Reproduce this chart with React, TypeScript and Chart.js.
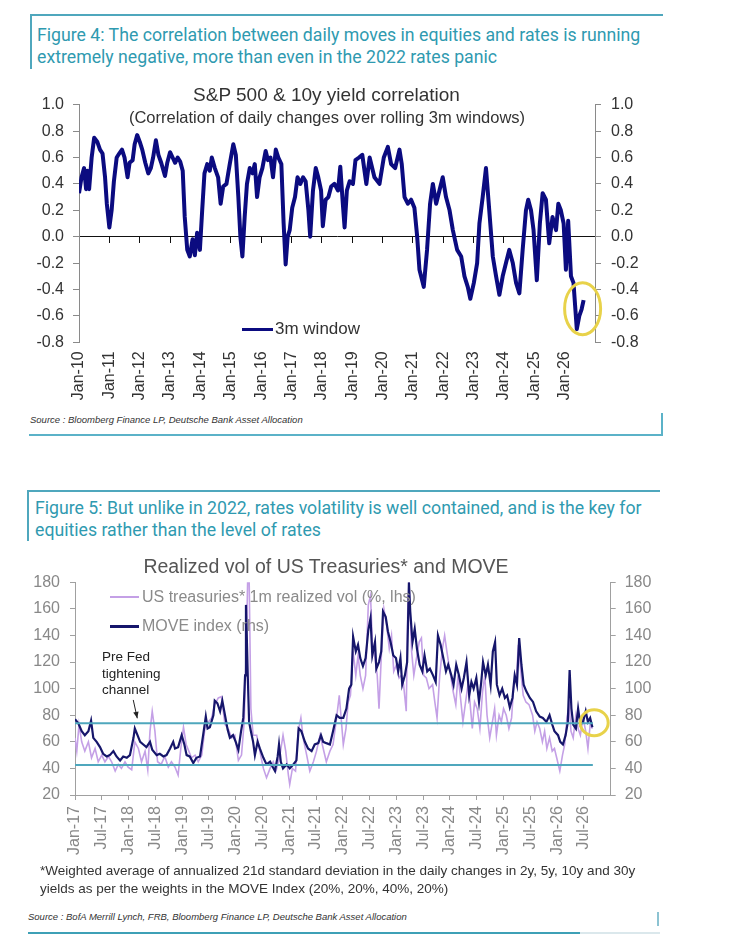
import React, { useEffect, useRef } from 'react';
import { Chart, registerables } from 'chart.js';

Chart.register(...registerables);

const FONT = "'Liberation Sans', Arial, sans-serif";
const NAVY = '#0b0b80';
const MOVE_NAVY = '#16166b';
const LAVENDER = '#c4a0e6';
const TEAL = '#4fa7bd';
const HEAD_TEAL = '#2f9ab0';

// ---------- Figure 4 data (months since Jan 2010) ----------
const corrMonth = [
  0, 1, 2, 2.8, 3.3, 4, 5, 6, 7.2, 8.3, 9.3, 10.3, 11, 12, 12.9, 13.8, 14.9, 15.9, 17, 18,
  19.2, 20, 21.2, 22, 23, 24, 25, 26.2, 27.4, 28.4, 29.3, 30.4, 31.4, 32.5, 34, 34.9, 36, 37, 38, 39,
  40, 41, 41.8, 42.8, 43.8, 44.9, 45.8, 46.7, 47.8, 48.7, 49.6, 50.7, 51.7, 52.5, 53.7, 55, 56, 57, 58.3, 59.6,
  61, 62, 63, 63.8, 64.6, 65.5, 66.4, 67.5, 68.6, 69.5, 70.4, 71.4, 72.5, 73.8, 74.7, 75.7, 76.7, 77.8, 78.8, 80,
  80.9, 81.7, 82.5, 83.3, 84.3, 85.4, 86.4, 87.5, 88.6, 89.6, 90.7, 91.4, 92.5, 93.6, 94.6, 95.7, 96.4, 97.5, 98.6, 99.7,
  101, 102.4, 103.3, 104.3, 105, 105.9, 107, 108.3, 109.3, 110.7, 112, 113.6, 114.9, 116.8, 118.8, 120.5, 122.1, 123.4, 125, 126.7,
  127.6, 128.7, 130, 131.3, 132.6, 133.7, 134.6, 136.3, 137.6, 138.8, 139.9, 141.2, 142.5, 143.8, 145.1, 146.5, 147.8, 149.5, 151.1, 152.4,
  153.7, 154.7, 156.1, 157.4, 158.3, 159.6, 160.9, 162.2, 163.6, 164.9, 166.2, 167.5, 168.8, 170.1, 171.5, 172.8, 174.1, 175.4, 176.7, 177.6,
  178.7, 179.7, 181, 182.2, 183.3, 184.6, 185.9, 187.2, 188.6, 189.5, 190.5, 191.6, 192.5, 193.4, 194.5, 195.5, 196.8, 197.8, 198.7, 199.5,
];
const corrValue = [
  0.33, 0.45, 0.52, 0.36, 0.5, 0.36, 0.6, 0.75, 0.72, 0.66, 0.63, 0.45, 0.25, 0.07, 0.2, 0.42, 0.6, 0.63, 0.66, 0.6,
  0.45, 0.56, 0.58, 0.7, 0.77, 0.72, 0.66, 0.56, 0.48, 0.52, 0.6, 0.73, 0.62, 0.56, 0.46, 0.56, 0.64, 0.6, 0.56, 0.6,
  0.57, 0.5, 0.15, -0.1, -0.15, -0.02, -0.14, 0.03, -0.1, 0.2, 0.48, 0.55, 0.5, 0.6, 0.52, 0.45, 0.25, 0.38, 0.4, 0.55,
  0.7, 0.62, 0.3, 0.0, -0.15, 0.15, 0.4, 0.52, 0.48, 0.55, 0.3, 0.45, 0.52, 0.65, 0.58, 0.6, 0.45, 0.66, 0.6, 0.55,
  0.1, -0.21, 0.0, 0.05, 0.22, 0.3, 0.45, 0.4, 0.45, 0.42, 0.2, 0.0, 0.35, 0.52, 0.45, 0.35, 0.08, 0.28, 0.3, 0.38,
  0.4, 0.35, 0.53, 0.25, 0.07, 0.35, 0.42, 0.4, 0.58, 0.6, 0.62, 0.4, 0.6, 0.45, 0.4, 0.6, 0.68, 0.55, 0.52, 0.66,
  0.55, 0.3, 0.25, 0.28, 0.22, 0.0, -0.25, -0.38, -0.1, 0.25, 0.4, 0.25, 0.35, 0.45, 0.3, 0.2, 0.05, -0.1, -0.15, -0.3,
  -0.38, -0.47, -0.35, -0.2, 0.1, 0.3, 0.52, 0.2, -0.15, -0.3, -0.44, -0.3, -0.2, -0.1, -0.2, -0.35, -0.43, -0.1, 0.2, 0.28,
  0.2, 0.05, -0.33, 0.1, 0.33, 0.28, -0.05, 0.15, 0.05, 0.25, 0.2, 0.1, -0.25, 0.12, -0.3, -0.35, -0.7, -0.6, -0.55, -0.48,
];
const corrXLabels = [
  'Jan-10', 'Jan-11', 'Jan-12', 'Jan-13', 'Jan-14', 'Jan-15', 'Jan-16', 'Jan-17', 'Jan-18',
  'Jan-19', 'Jan-20', 'Jan-21', 'Jan-22', 'Jan-23', 'Jan-24', 'Jan-25', 'Jan-26',
];
const corrYTicks = [1.0, 0.8, 0.6, 0.4, 0.2, 0.0, -0.2, -0.4, -0.6, -0.8];
const corrLegend = '3m window';

// ---------- Figure 5 data (months since Jan 2017) ----------
const moveMonth = [
  0, 0.75, 1.5, 2.2, 3, 3.6, 4.1, 4.85, 5.6, 6.3, 7.1, 7.8, 8.6, 9.3, 10.1, 10.8, 11.6, 12.3, 13.1, 13.4,
  14, 14.6, 15.3, 16, 16.8, 17.3, 18.3, 19, 19.8, 20.5, 21.3, 22, 22.4, 23.1, 23.9, 24.5, 25, 25.7, 26.5, 27.2,
  28, 28.7, 29.3, 29.7, 30.2, 31, 31.3, 31.9, 32.5, 33, 33.6, 34.2, 34.7, 35.4, 36, 36.6, 37.2, 37.7, 38.1, 38.3,
  38.7, 39, 39.4, 39.9, 40.3, 40.9, 41.4, 42.2, 42.9, 43.7, 44.3, 44.8, 45.4, 45.7, 46.1, 46.6, 47.4, 48.1, 48.9, 49.6,
  50.1, 50.7, 51.5, 52.2, 53, 53.7, 54.5, 55.1, 55.6, 56.3, 57.1, 57.8, 58.6, 59.3, 60.1, 60.8, 61.4, 61.9, 62.3, 62.9,
  63.4, 63.9, 64.5, 65.1, 65.7, 66.2, 66.6, 67.2, 67.5, 68.1, 68.6, 69, 69.6, 70.1, 70.7, 71.3, 71.9, 72.4, 72.9, 73.3,
  73.9, 74.4, 74.8, 75.1, 75.6, 76.1, 76.6, 77.2, 77.8, 78.3, 78.9, 79.5, 80.2, 80.8, 81.3, 81.9, 82.5, 83.1, 83.6, 84.3,
  84.8, 85.4, 86, 86.6, 87.1, 87.7, 88.3, 88.8, 89.3, 89.9, 90.5, 91, 91.4, 92, 92.5, 93.1, 93.6, 94.1, 94.5, 95.1,
  95.7, 96.3, 96.8, 97.4, 98, 98.5, 99, 99.5, 100, 100.5, 101.1, 101.9, 102.6, 103.3, 104.1, 104.8, 105.6, 106.3, 106.9, 107.4,
  108.2, 108.7, 109.3, 109.9, 110.4, 110.8, 111.2, 111.6, 112.2, 112.7, 113.2, 113.8, 114.4, 114.9, 115.4, 115.9,
];
const moveValue = [
  77, 74, 68, 65, 68, 76, 63, 60, 56, 51, 49, 50, 53, 49, 46, 49, 48, 50, 63, 70,
  65, 60, 58, 56, 60, 54, 50, 51, 49, 50, 55, 60, 55, 56, 65, 58, 50, 49, 44, 48,
  49, 65, 79, 70, 71, 80, 91, 89, 83, 91, 80, 69, 63, 65, 60, 54, 68, 78, 110, 163,
  110, 75, 68, 60, 50, 60, 55, 48, 43, 45, 41, 38, 49, 58, 45, 40, 43, 40, 43, 46,
  70, 68, 60, 55, 53, 58, 59, 65, 60, 59, 58, 68, 80, 78, 78, 85, 100, 103, 139, 128,
  133, 123, 117, 123, 144, 153, 125, 135, 115, 120, 128, 158, 154, 143, 135, 125, 123, 113, 123, 103,
  110, 120, 180, 158, 135, 145, 130, 118, 113, 125, 113, 115, 110, 105, 140, 133, 123, 113, 118, 110,
  103, 118, 110, 100, 108, 120, 95, 105, 100, 108, 90, 105, 120, 110, 118, 103, 128, 135, 103, 95,
  100, 93, 95, 86, 93, 110, 103, 138, 118, 103, 98, 93, 90, 83, 79, 78, 75, 80, 73, 68,
  65, 60, 58, 65, 75, 114, 85, 73, 70, 85, 73, 75, 83, 75, 78, 71,
];
const rvMonth = [
  0, 0.4, 0.9, 1.5, 2.2, 3, 3.7, 4.5, 5.2, 6, 6.7, 7.5, 8.2, 9, 9.7, 10.4, 11.2, 11.9, 12.7, 13.4,
  14.2, 14.9, 15.7, 16.3, 16.8, 17.3, 17.9, 18.5, 19.3, 20.1, 20.9, 21.6, 22.4, 23.1, 23.7, 24.3, 24.9, 25.5, 26.1, 26.9,
  27.6, 28.4, 29.1, 29.9, 30.6, 31.3, 32.1, 32.8, 33.6, 34.3, 35.1, 35.8, 36.6, 37.3, 37.9, 38.4, 38.7, 39, 39.4, 39.9,
  40.7, 41.4, 42.2, 42.9, 43.7, 44.4, 45.1, 45.9, 46.6, 47.2, 47.8, 48.1, 48.7, 49.4, 50, 50.6, 51.1, 51.9, 52.6, 53.4,
  54.1, 54.9, 55.6, 56.3, 57.1, 57.8, 58.6, 59.2, 60.1, 60.7, 61.2, 61.7, 62.3, 62.9, 63.4, 63.9, 64.5, 65.1, 65.7, 66.2,
  66.6, 67.2, 67.7, 68.1, 68.6, 69.2, 69.8, 70.4, 70.9, 71.4, 72, 72.6, 73.1, 73.6, 74.2, 74.6, 74.8, 75.4, 75.9, 76.5,
  77.1, 77.6, 78.1, 78.7, 79.3, 80.1, 80.6, 81.1, 81.7, 82.3, 82.8, 83.3, 83.9, 84.7, 85.3, 85.8, 86.3, 86.9, 87.5, 88.1,
  88.6, 89, 89.5, 90.1, 90.7, 91.3, 91.8, 92.3, 92.9, 93.5, 94, 94.4, 95, 95.5, 96, 96.6, 97.2, 97.8, 98.3, 98.9,
  99.3, 99.8, 100.4, 101, 101.7, 102.5, 103, 103.5, 104.1, 104.7, 105.2, 105.7, 106.3, 106.9, 107.4, 107.9, 108.6, 109.2, 109.7, 110.2,
  110.7, 111.1, 111.6, 112.2, 112.7, 113.2, 113.8, 114.4, 114.9, 115.4, 115.9,
];
const rvValue = [
  63, 53, 73, 60, 53, 60, 48, 55, 45, 50, 45, 49, 45, 38, 43, 40, 45, 41, 39, 60,
  55, 45, 53, 39, 68, 83, 68, 45, 43, 49, 41, 45, 41, 35, 55, 71, 58, 53, 48, 50,
  45, 50, 70, 75, 78, 88, 93, 94, 73, 70, 63, 65, 46, 50, 75, 135, 185, 185, 85, 65,
  65, 53, 40, 33, 40, 45, 39, 50, 65, 53, 35, 28, 40, 38, 68, 78, 63, 50, 38, 45,
  53, 65, 55, 45, 53, 58, 78, 95, 58, 70, 90, 95, 128, 110, 125, 110, 100, 110, 163, 170,
  135, 123, 110, 85, 123, 160, 148, 130, 140, 113, 118, 108, 110, 103, 83, 170, 182, 128, 110, 123,
  135, 138, 110, 108, 100, 103, 90, 78, 110, 130, 140, 128, 115, 98, 88, 110, 95, 75, 90, 105,
  85, 70, 90, 85, 70, 98, 110, 80, 63, 75, 85, 65, 80, 75, 85, 80, 70, 78, 103, 108,
  133, 115, 95, 90, 88, 80, 68, 75, 70, 60, 68, 55, 63, 53, 55, 48, 38, 50, 58, 78,
  88, 68, 63, 80, 70, 65, 78, 68, 55, 73, 70,
];
const bandMonth = [0, 116];
const bandUpper = [74, 74];
const bandLower = [42.5, 42.5];
const volXLabels = [
  'Jan-17', 'Jul-17', 'Jan-18', 'Jul-18', 'Jan-19', 'Jul-19', 'Jan-20', 'Jul-20', 'Jan-21', 'Jul-21',
  'Jan-22', 'Jul-22', 'Jan-23', 'Jul-23', 'Jan-24', 'Jul-24', 'Jan-25', 'Jul-25', 'Jan-26', 'Jul-26',
];
const volYTicks = [180, 160, 140, 120, 100, 80, 60, 40, 20];
const volLegend = ['US treasuries* 1m realized vol (%, lhs)', 'MOVE index (rhs)'];

const pts = (xs: number[], ys: number[]) => xs.map((x, i) => ({ x, y: ys[i] }));

function ellipsePlugin(cx: number, cy: number, rx: number, ry: number) {
  return {
    id: 'ellipseMark',
    afterDatasetsDraw(chart: any) {
      const { ctx, scales } = chart;
      const px = scales.x.getPixelForValue(cx);
      const py = scales.y.getPixelForValue(cy);
      ctx.save();
      ctx.strokeStyle = '#e8d24a';
      ctx.lineWidth = 3;
      ctx.beginPath();
      ctx.ellipse(px, py, rx, ry, 0, 0, Math.PI * 2);
      ctx.stroke();
      ctx.restore();
    },
  };
}

const arrowPlugin = {
  id: 'arrowMark',
  afterDatasetsDraw(chart: any) {
    const { ctx, scales } = chart;
    const x1 = scales.x.getPixelForValue(13.05);
    const y1 = scales.y.getPixelForValue(91.5);
    const x2 = scales.x.getPixelForValue(13.95);
    const y2 = scales.y.getPixelForValue(77.7);
    const ang = Math.atan2(y2 - y1, x2 - x1);
    ctx.save();
    ctx.strokeStyle = '#222';
    ctx.fillStyle = '#222';
    ctx.lineWidth = 1;
    ctx.beginPath();
    ctx.moveTo(x1, y1);
    ctx.lineTo(x2, y2);
    ctx.stroke();
    ctx.beginPath();
    ctx.moveTo(x2, y2);
    ctx.lineTo(x2 - 7 * Math.cos(ang - 0.4), y2 - 7 * Math.sin(ang - 0.4));
    ctx.lineTo(x2 - 7 * Math.cos(ang + 0.4), y2 - 7 * Math.sin(ang + 0.4));
    ctx.closePath();
    ctx.fill();
    ctx.restore();
  },
};

function CorrChart() {
  const ref = useRef<HTMLCanvasElement>(null);
  useEffect(() => {
    const tickFont = { family: FONT, size: 16 };
    const xTicks = (s: any) => {
      s.ticks = corrXLabels.map((_, i) => ({ value: i * 12 }));
    };
    const yTicks = (s: any) => {
      s.ticks = corrYTicks.map((v) => ({ value: v }));
    };
    const chart = new Chart(ref.current as HTMLCanvasElement, {
      type: 'line',
      data: {
        datasets: [
          {
            label: corrLegend,
            data: pts(corrMonth, corrValue),
            xAxisID: 'x',
            yAxisID: 'y',
            borderColor: NAVY,
            borderWidth: 4,
            pointRadius: 0,
            tension: 0,
            borderJoinStyle: 'round',
          } as any,
        ],
      },
      options: {
        responsive: false,
        animation: false,
        events: [],
        layout: { padding: { top: 24.7, right: 0, bottom: 0, left: 0 } },
        plugins: { legend: { display: false }, tooltip: { enabled: false } },
        scales: {
          x: {
            type: 'linear',
            position: 'bottom',
            min: 0,
            max: 204,
            afterBuildTicks: xTicks,
            afterFit: (s: any) => {
              s.height = 67.7;
            },
            grid: { display: false, drawTicks: false },
            border: { display: false },
            ticks: {
              autoSkip: false,
              maxRotation: 90,
              minRotation: 90,
              padding: 9,
              color: '#333',
              font: tickFont,
              callback: (_v: any, i: number) => corrXLabels[i],
            },
          },
          x0: {
            type: 'linear',
            axis: 'x',
            position: { y: 0 },
            min: 0,
            max: 204,
            afterBuildTicks: xTicks,
            grid: { drawOnChartArea: false, drawTicks: true, tickLength: 6, color: '#111' },
            border: { display: true, color: '#111', width: 1 },
            ticks: { display: false },
          },
          y: {
            type: 'linear',
            position: 'left',
            min: -0.8,
            max: 1.0,
            afterBuildTicks: yTicks,
            afterFit: (s: any) => {
              s.width = 79;
            },
            grid: { drawOnChartArea: false, drawTicks: true, tickLength: 6, color: '#8a8a8a' },
            border: { color: '#8a8a8a' },
            ticks: { padding: 9, color: '#333', font: tickFont, callback: (v: any) => Number(v).toFixed(1) },
          },
          y2: {
            type: 'linear',
            position: 'right',
            min: -0.8,
            max: 1.0,
            afterBuildTicks: yTicks,
            afterFit: (s: any) => {
              s.width = 140;
            },
            grid: { drawOnChartArea: false, drawTicks: true, tickLength: 6, color: '#8a8a8a' },
            border: { color: '#8a8a8a' },
            ticks: { padding: 10, color: '#333', font: tickFont, callback: (v: any) => Number(v).toFixed(1) },
          },
        } as any,
      },
      plugins: [ellipsePlugin(199.1, -0.545, 18, 26)],
    });
    return () => chart.destroy();
  }, []);
  return <canvas ref={ref} width={735} height={330} style={{ position: 'absolute', left: 0, top: 80 }} />;
}

function VolChart() {
  const ref = useRef<HTMLCanvasElement>(null);
  useEffect(() => {
    const tickFont = { family: FONT, size: 16 };
    const yTicks = (s: any) => {
      s.ticks = volYTicks.map((v) => ({ value: v }));
    };
    const chart = new Chart(ref.current as HTMLCanvasElement, {
      type: 'line',
      data: {
        datasets: [
          { data: pts(bandMonth, bandUpper), borderColor: TEAL, borderWidth: 2, pointRadius: 0, yAxisID: 'y' },
          { data: pts(bandMonth, bandLower), borderColor: TEAL, borderWidth: 2, pointRadius: 0, yAxisID: 'y' },
          {
            label: volLegend[1],
            data: pts(moveMonth, moveValue),
            borderColor: MOVE_NAVY,
            borderWidth: 2.2,
            pointRadius: 0,
            tension: 0,
            yAxisID: 'y2',
          },
          {
            label: volLegend[0],
            data: pts(rvMonth, rvValue),
            borderColor: LAVENDER,
            borderWidth: 1.6,
            pointRadius: 0,
            tension: 0,
            yAxisID: 'y',
          },
        ] as any,
      },
      options: {
        responsive: false,
        animation: false,
        events: [],
        layout: { padding: { top: 32.3, right: 0, bottom: 0, left: 0 } },
        plugins: { legend: { display: false }, tooltip: { enabled: false } },
        scales: {
          x: {
            type: 'linear',
            position: 'bottom',
            min: 0,
            max: 120,
            afterBuildTicks: (s: any) => {
              s.ticks = volXLabels.map((_, i) => ({ value: i * 6 }));
            },
            afterFit: (s: any) => {
              s.height = 75;
            },
            grid: { display: true, drawOnChartArea: false, drawTicks: true, tickLength: 5, color: '#a0a0a0' },
            border: { display: true, color: '#a0a0a0' },
            ticks: {
              autoSkip: false,
              maxRotation: 90,
              minRotation: 90,
              padding: 6,
              color: '#888',
              font: tickFont,
              callback: (_v: any, i: number) => volXLabels[i],
            },
          },
          y: {
            type: 'linear',
            position: 'left',
            min: 20,
            max: 180,
            afterBuildTicks: yTicks,
            afterFit: (s: any) => {
              s.width = 75;
            },
            grid: { drawOnChartArea: false, drawTicks: true, tickLength: 5, color: '#a0a0a0' },
            border: { color: '#a0a0a0' },
            ticks: { padding: 10, color: '#888', font: tickFont },
          },
          y2: {
            type: 'linear',
            position: 'right',
            min: 20,
            max: 180,
            afterBuildTicks: yTicks,
            afterFit: (s: any) => {
              s.width = 124.3;
            },
            grid: { drawOnChartArea: false, drawTicks: true, tickLength: 5, color: '#a0a0a0' },
            border: { color: '#a0a0a0' },
            ticks: { padding: 9, color: '#888', font: tickFont },
          },
        } as any,
      },
      plugins: [ellipsePlugin(116.3, 74.4, 14, 13), arrowPlugin],
    });
    return () => chart.destroy();
  }, []);
  return <canvas ref={ref} width={735} height={320} style={{ position: 'absolute', left: 0, top: 550 }} />;
}

const abs = (left: number, top: number, extra: React.CSSProperties = {}): React.CSSProperties => ({
  position: 'absolute',
  left,
  top,
  whiteSpace: 'nowrap',
  ...extra,
});

export default function App() {
  const headFont: React.CSSProperties = {
    fontFamily: "Roboto, 'Noto Sans', sans-serif",
    fontWeight: 400,
    fontSize: 17.7,
    lineHeight: '22px',
    color: HEAD_TEAL,
  };
  const srcFont: React.CSSProperties = {
    fontFamily: FONT,
    fontStyle: 'italic',
    fontSize: 9.5,
    lineHeight: '12px',
    color: '#333',
  };
  return (
    <div style={{ position: 'absolute', left: 0, top: 0, width: 735, height: 947, background: '#fff', overflow: 'hidden', fontFamily: FONT }}>
      {/* Figure 4 header */}
      <div style={abs(30, 14, { width: 633, height: 2, background: TEAL })} />
      <div style={abs(30, 14, { width: 2, height: 55, background: TEAL })} />
      <div style={abs(37, 24, headFont)}>
        <div>Figure 4: The correlation between daily moves in equities and rates is running</div>
        <div>extremely negative, more than even in the 2022 rates panic</div>
      </div>

      <CorrChart />
      <div style={abs(0, 84, { width: 653, textAlign: 'center', fontSize: 19, lineHeight: '22px', color: '#333' })}>
        S&amp;P 500 &amp; 10y yield correlation
      </div>
      <div style={abs(0, 107, { width: 654, textAlign: 'center', fontSize: 16.5, lineHeight: '20px', color: '#333' })}>
        (Correlation of daily changes over rolling 3m windows)
      </div>
      <div style={abs(242, 327.5, { width: 31, height: 3, background: NAVY })} />
      <div style={abs(275, 319, { fontSize: 17, lineHeight: '20px', color: '#333' })}>{corrLegend}</div>
      <div style={abs(30, 414, srcFont)}>Source : Bloomberg Finance LP, Deutsche Bank Asset Allocation</div>
      <div style={abs(29, 434, { width: 634, height: 2, background: '#5bb2c8' })} />
      <div style={abs(661, 413, { width: 2, height: 23, background: '#5bb2c8' })} />

      {/* Figure 5 header */}
      <div style={abs(27, 490, { width: 633, height: 2, background: TEAL })} />
      <div style={abs(27, 490, { width: 2, height: 51, background: TEAL })} />
      <div style={abs(35, 497, headFont)}>
        <div>Figure 5: But unlike in 2022, rates volatility is well contained, and is the key for</div>
        <div>equities rather than the level of rates</div>
      </div>

      <VolChart />
      <div style={abs(0, 554, { width: 652, textAlign: 'center', fontSize: 19.5, lineHeight: '24px', color: '#555' })}>
        Realized vol of US Treasuries* and MOVE
      </div>
      <div style={abs(110, 596, { width: 29, height: 2, background: LAVENDER })} />
      <div style={abs(142, 587, { fontSize: 16, lineHeight: '20px', color: '#8a8a8a' })}>{volLegend[0]}</div>
      <div style={abs(110, 625, { width: 29, height: 3, background: MOVE_NAVY })} />
      <div style={abs(142, 616, { fontSize: 16, lineHeight: '20px', color: '#8a8a8a' })}>{volLegend[1]}</div>
      <div style={abs(102, 649, { fontSize: 13.5, lineHeight: '16.5px', color: '#222' })}>
        <div>Pre Fed</div>
        <div>tightening</div>
        <div>channel</div>
      </div>
      <div style={abs(40, 862, { fontSize: 13.5, lineHeight: '17.5px', color: '#333' })}>
        <div>*Weighted average of annualized 21d standard deviation in the daily changes in 2y, 5y, 10y and 30y</div>
        <div>yields as per the weights in the MOVE Index (20%, 20%, 40%, 20%)</div>
      </div>
      <div style={abs(28, 911, srcFont)}>
        Source : BofA Merrill Lynch, FRB, Bloomberg Finance LP, Deutsche Bank Asset Allocation
      </div>
      <div style={abs(28, 932, { width: 552, height: 2, background: '#3ea0b6' })} />
      <div style={abs(580, 932, { width: 80, height: 2, background: '#dbe8ec' })} />
      <div style={abs(657, 912, { width: 2, height: 14, background: '#8cc3d2' })} />
    </div>
  );
}
